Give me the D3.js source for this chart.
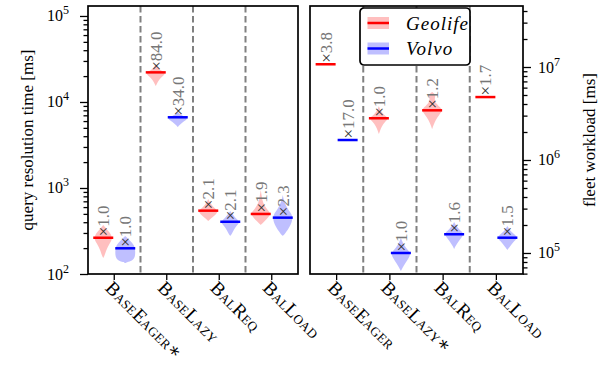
<!DOCTYPE html>
<html>
<head>
<meta charset="utf-8">
<script src="https://cdn.jsdelivr.net/npm/d3@7"></script>
<style>
  body { margin: 0; background: #fff; }
  text { font-family: "Liberation Serif", "DejaVu Serif", serif; }
</style>
</head>
<body>
<div id="chart"></div>
<script>
// categories
const queryCats = ['BaseEager\u2217', 'BaseLazy', 'BalReq', 'BalLoad'];
const workloadCats = ['BaseEager', 'BaseLazy\u2217', 'BalReq', 'BalLoad'];
const seriesNames = ['Geolife', 'Volvo'];

// medians (ms)
const queryGeolife = [264, 22100, 545, 499];
const queryVolvo = [199, 6640, 405, 452];
const workloadGeolife = [1.07e7, 2.81e6, 3.42e6, 4.75e6];
const workloadVolvo = [1.64e6, 1.0e5, 1.59e5, 1.46e5];

// slowdown labels
const queryGeolifeRatio = ['1.0', '84.0', '2.1', '1.9'];
const queryVolvoRatio = ['1.0', '34.0', '2.1', '2.3'];
const workloadGeolifeRatio = ['3.8', '1.0', '1.2', '1.7'];
const workloadVolvoRatio = ['17.0', '1.0', '1.6', '1.5'];

// violin outlines: [value in ms, relative density]
const queryGeolifeViolins = [
    [[153, 0], [162, 0.12], [190, 0.3], [223, 0.6], [262, 1], [308, 0.6], [371, 0]],
    [[15350, 0], [16200, 0.1], [18030, 0.3], [20050, 0.7], [21750, 1], [22900, 0.6], [24850, 0.2], [27700, 0]],
    [[413, 0], [448, 0.35], [499, 0.8], [540, 1], [601, 0.5], [669, 0.2], [745, 0]],
    [[371, 0], [413, 0.4], [460, 0.8], [512, 1], [570, 0.6], [669, 0.2], [807, 0.1], [948, 0]]
];
const queryVolvoViolins = [
    [[134, 0], [138, 0.3], [145, 0.8], [162, 1], [190, 1], [217, 0.9], [242, 0.5], [277, 0]],
    [[5120, 0], [5400, 0.2], [5850, 0.5], [6345, 1], [6690, 0.8], [7060, 0.3], [7650, 0]],
    [[277, 0], [292, 0.15], [325, 0.35], [362, 0.6], [402, 1], [436, 0.6], [486, 0.3], [540, 0]],
    [[277, 0], [292, 0.2], [325, 0.5], [371, 0.8], [436, 1], [499, 0.9], [570, 0.5], [687, 0.15], [829, 0]]
];
const workloadGeolifeViolins = [
    [],
    [[1.90e6, 0], [2.05e6, 0.1], [2.32e6, 0.3], [2.56e6, 0.6], [2.83e6, 1], [3.05e6, 0.5], [3.45e6, 0.15], [3.81e6, 0]],
    [[2.15e6, 0], [2.38e6, 0.15], [2.69e6, 0.35], [3.05e6, 0.7], [3.36e6, 1], [3.62e6, 0.9], [4.00e6, 0.4], [4.53e6, 0.2], [5.00e6, 0.4], [5.38e6, 0]],
    []
];
const workloadVolvoViolins = [
    [],
    [[6.40e4, 0], [6.90e4, 0.15], [7.80e4, 0.45], [8.84e4, 0.8], [1.0e5, 1], [1.13e5, 0.5], [1.28e5, 0.2], [1.45e5, 0]],
    [[1.10e5, 0], [1.19e5, 0.15], [1.31e5, 0.4], [1.45e5, 0.7], [1.60e5, 1], [1.72e5, 0.7], [1.90e5, 0.3], [2.15e5, 0]],
    [[1.08e5, 0], [1.19e5, 0.3], [1.31e5, 0.6], [1.45e5, 1], [1.56e5, 0.8], [1.72e5, 0.3], [1.95e5, 0]]
];

// axis ticks
const queryMajorTicks = [1e2, 1e3, 1e4, 1e5];
const workloadMajorTicks = [1e5, 1e6, 1e7];

const width = 602, height = 368;
const plotTop = 6, plotBottom = 274;
const colors = ['#ff0000', '#0000ff'];

const svg = d3.select('#chart').append('svg')
    .attr('width', width)
    .attr('height', height);

const panels = [
    {
        cats: queryCats, left: 88, right: 298, domain: [1e2, Math.pow(10, 5.116)],
        side: 'left', majors: queryMajorTicks,
        medians: [queryGeolife, queryVolvo],
        ratios: [queryGeolifeRatio, queryVolvoRatio],
        violins: [queryGeolifeViolins, queryVolvoViolins],
        title: 'query resolution time [ms]'
    },
    {
        cats: workloadCats, left: 310, right: 523, domain: [Math.pow(10, 4.774), Math.pow(10, 7.656)],
        side: 'right', majors: workloadMajorTicks,
        medians: [workloadGeolife, workloadVolvo],
        ratios: [workloadGeolifeRatio, workloadVolvoRatio],
        violins: [workloadGeolifeViolins, workloadVolvoViolins],
        title: 'fleet workload [ms]'
    }
];

panels.forEach(p => {
    let x = d3.scaleBand().domain(p.cats).range([p.left, p.right]);
    let y = d3.scaleLog().domain(p.domain).range([plotBottom, plotTop]);
    let g = svg.append('g');
    let hw = 10;
    let offset = [-11, 11];

    // dashed dividers
    g.selectAll('line.div')
        .data(p.cats.slice(1))
        .enter()
        .append('line')
        .attr('x1', d => x(d)).attr('x2', d => x(d))
        .attr('y1', plotTop).attr('y2', plotBottom)
        .attr('stroke', '#808080')
        .attr('stroke-width', 2)
        .attr('stroke-dasharray', '6.5,3.5');

    // violins, medians, labels
    [0, 1].forEach(s => {
        let area = d3.area()
            .curve(d3.curveBasis)
            .y(d => y(d[0]));
        p.cats.forEach((c, i) => {
            let cx = x(c) + x.bandwidth() / 2 + offset[s];
            let v = p.violins[s][i];
            if (v.length) {
                g.append('path')
                    .datum(v)
                    .attr('d', area.x0(d => cx - d[1] * hw).x1(d => cx + d[1] * hw))
                    .attr('fill', colors[s])
                    .attr('fill-opacity', 0.25);
            }
            let my = y(p.medians[s][i]);
            g.append('line')
                .attr('x1', cx - hw).attr('x2', cx + hw)
                .attr('y1', my).attr('y2', my)
                .attr('stroke', colors[s])
                .attr('stroke-width', 2.5);
            let t = g.append('text')
                .attr('transform', `translate(${cx}, ${my - 1.5}) rotate(-90)`)
                .attr('dominant-baseline', 'central')
                .attr('font-size', 17);
            t.append('tspan').attr('fill', '#333').text('\u00d7');
            t.append('tspan').attr('fill', '#777').text(p.ratios[s][i]);
        });
    });

    // y axis
    let majorAxis = (p.side === 'left' ? d3.axisLeft(y) : d3.axisRight(y))
        .tickValues(p.majors).tickSize(8).tickFormat('');
    let minors = y.ticks().filter(d => p.majors.indexOf(d) < 0);
    let minorAxis = (p.side === 'left' ? d3.axisLeft(y) : d3.axisRight(y))
        .tickValues(minors).tickSize(4.5).tickFormat('');
    let ax = p.side === 'left' ? p.left : p.right;
    [majorAxis, minorAxis].forEach(a => {
        svg.append('g')
            .attr('transform', `translate(${ax}, 0)`)
            .call(a)
            .call(sel => sel.select('.domain').remove())
            .selectAll('line').attr('stroke', '#000').attr('stroke-width', 1.3);
    });
    let labels = svg.append('g').selectAll('text')
        .data(p.majors)
        .enter()
        .append('text')
        .attr('x', p.side === 'left' ? ax - 19 : ax + 15)
        .attr('y', d => y(d) + 5.5)
        .attr('text-anchor', p.side === 'left' ? 'end' : 'start')
        .attr('font-size', 16);
    labels.append('tspan').text('10');
    labels.append('tspan').attr('dy', -7).attr('font-size', 12).text(d => Math.round(Math.log10(d)));

    // x axis
    svg.append('g')
        .attr('transform', `translate(0, ${plotBottom})`)
        .call(d3.axisBottom(x).tickSize(6).tickFormat(''))
        .call(sel => sel.select('.domain').remove())
        .selectAll('line').attr('stroke', '#000').attr('stroke-width', 1.3);
    svg.append('g').selectAll('text')
        .data(p.cats)
        .enter()
        .append('text')
        .attr('transform', d => `translate(${x(d) + x.bandwidth() / 2 - 10}, ${plotBottom + 15}) rotate(45)`)
        .attr('font-size', 19)
        .attr('letter-spacing', 0.3)
        .style('font-variant', 'small-caps')
        .text(d => d);

    // frame
    svg.append('rect')
        .attr('x', p.left).attr('y', plotTop)
        .attr('width', p.right - p.left).attr('height', plotBottom - plotTop)
        .attr('fill', 'none')
        .attr('stroke', '#000')
        .attr('stroke-width', 1.7);

    // axis title
    let tx = p.side === 'left' ? 27 : 589;
    svg.append('text')
        .attr('transform', `translate(${tx}, ${(plotTop + plotBottom) / 2}) rotate(-90)`)
        .attr('text-anchor', 'middle')
        .attr('dominant-baseline', 'central')
        .attr('font-size', 17)
        .text(p.title);
});

// legend
let legend = svg.append('g').attr('transform', 'translate(360, 8)');
legend.append('rect')
    .attr('width', 110).attr('height', 57)
    .attr('rx', 4)
    .attr('fill', '#fff')
    .attr('stroke', '#000')
    .attr('stroke-width', 1.7);
seriesNames.forEach((name, i) => {
    let ly = 15 + i * 25.5;
    legend.append('rect')
        .attr('x', 7.5).attr('y', ly - 6)
        .attr('width', 21.5).attr('height', 12)
        .attr('fill', colors[i]).attr('fill-opacity', 0.25);
    legend.append('line')
        .attr('x1', 7.5).attr('x2', 29)
        .attr('y1', ly).attr('y2', ly)
        .attr('stroke', colors[i]).attr('stroke-width', 2.5);
    legend.append('text')
        .attr('x', 46).attr('y', ly)
        .attr('dominant-baseline', 'central')
        .attr('font-size', 19)
        .attr('letter-spacing', 1)
        .attr('font-style', 'italic')
        .text(name);
});
</script>
</body>
</html>
